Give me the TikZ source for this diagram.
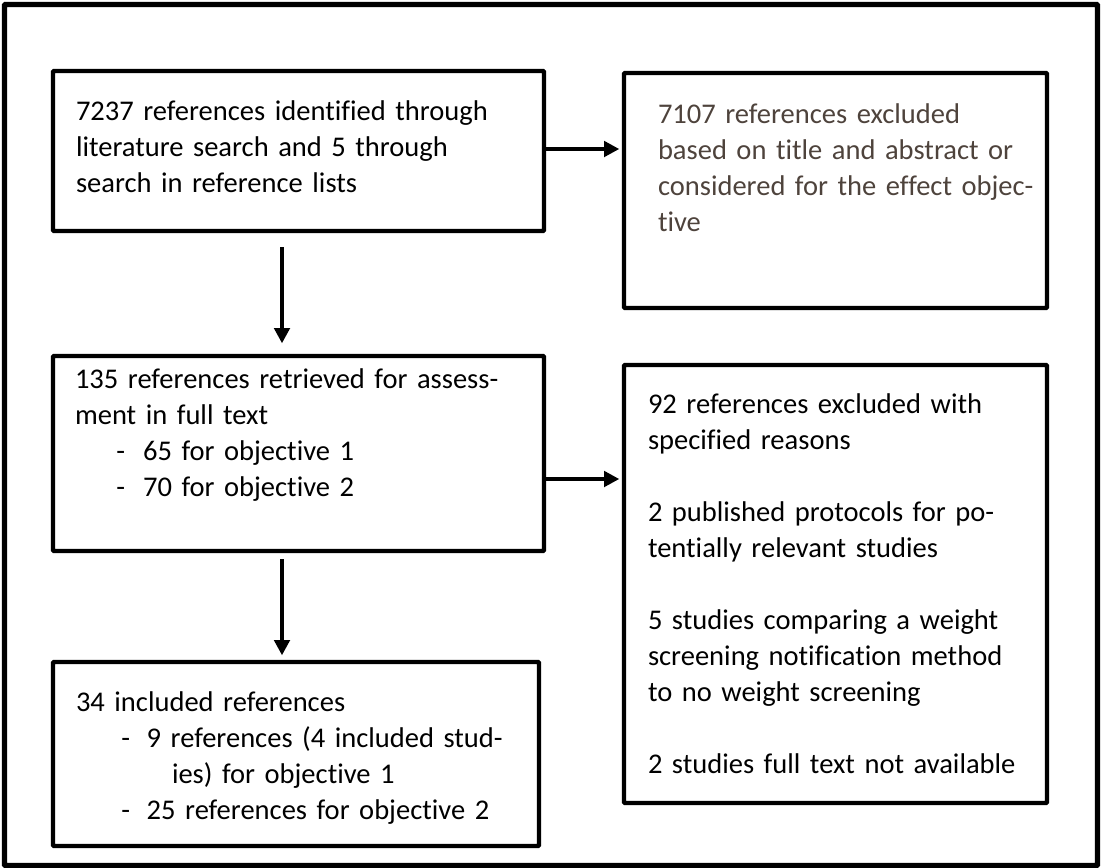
\documentclass[tikz,border=0pt]{standalone}
\usepackage{fontspec}
\setmainfont{Carlito}[Ligatures=NoCommon]
\usetikzlibrary{arrows.meta,fit,calc}
\definecolor{exclcol}{HTML}{4E433C}
\begin{document}
\begin{tikzpicture}[x=0.75pt,y=-0.75pt,
  box/.style={draw=black,line width=3.1pt,inner sep=0pt,outer sep=0pt,rounded corners=0.6pt},
  arr/.style={line width=3.1pt,-{Triangle[length=11.5pt,width=11.5pt]}},
  txt/.style={anchor=base west,inner sep=0pt,outer sep=0pt,text width=420pt,align=left,
    font=\fontsize{21.4pt}{27pt}\selectfont}]
\useasboundingbox (0,0) rectangle (1101,868);
% outer frame
\node[box,line width=3.8pt,fit={(4.5,4.5) (1097.5,865.5)}] (frame) {};
% boxes
\node[box,fit={(53,71) (544,231)}] (b1) {};
\node[box,fit={(624,73) (1047,308)}] (b2) {};
\node[box,fit={(53,356) (544,551)}] (b3) {};
\node[box,fit={(624,365) (1047,803)}] (b4) {};
\node[box,fit={(53,662) (539,846)}] (b5) {};
% texts
\node[txt] (t1) at (76,120) {7237 references identified through\\literature search and 5 through\\search in reference lists};
\node[txt,text=exclcol] (t2) at (658,123) {7107 references excluded\\based on title and abstract or\\considered for the effect objec-\\tive};
\node[txt] (t3) at (75,388) {135 references retrieved for assess-\\ment in full text\\\hspace*{31pt}-\hspace*{13.5pt}65 for objective 1\\\hspace*{31pt}-\hspace*{13.5pt}70 for objective 2};
\node[txt] (t4) at (648,413) {92 references excluded with\\specified reasons\\\mbox{}\\2 published protocols for po-\\tentially relevant studies\\\mbox{}\\5 studies comparing a weight\\screening notification method\\to no weight screening\\\mbox{}\\2 studies full text not available};
\node[txt] (t5) at (76,711) {34 included references\\\hspace*{34pt}-\hspace*{12.5pt}9 references (4 included stud-\\\hspace*{72pt}ies) for objective 1\\\hspace*{34pt}-\hspace*{12.5pt}25 references for objective 2};
% connectors
\coordinate (vx) at (282,0);
\coordinate (h1) at (0,149);
\coordinate (h2) at (0,479);
\draw[arr,shorten >=3.5pt] (b1.east |- h1) -- (b2.west |- h1);
\draw[arr,shorten >=3.5pt] (b3.east |- h2) -- (b4.west |- h2);
\draw[arr,shorten <=12pt,shorten >=9.5pt] (vx |- b1.south) -- (vx |- b3.north);
\draw[arr,shorten <=6pt,shorten >=5pt] (vx |- b3.south) -- (vx |- b5.north);
\end{tikzpicture}
\end{document}
